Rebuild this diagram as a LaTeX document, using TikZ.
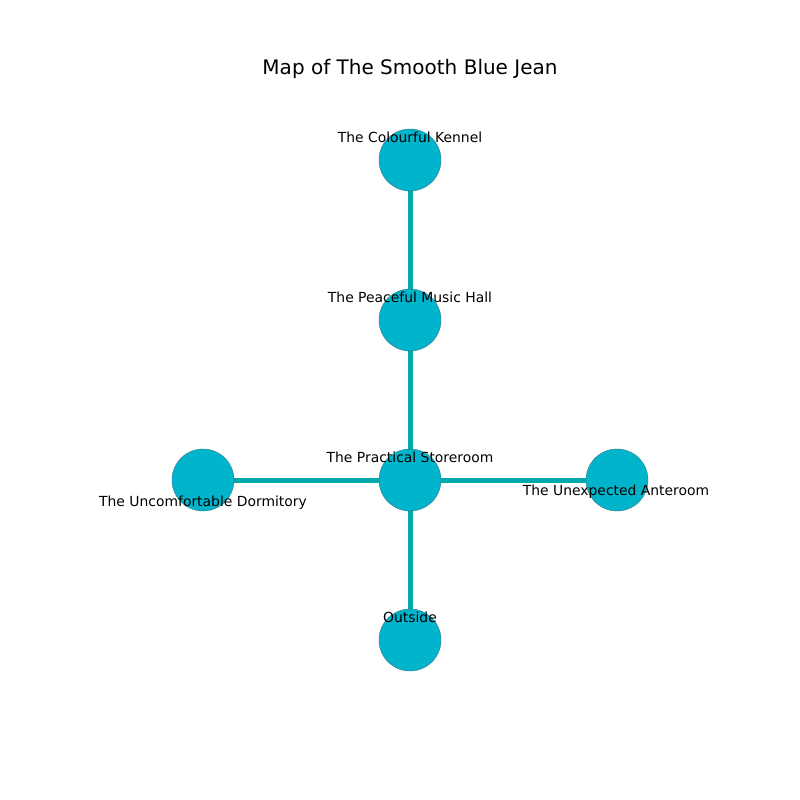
\documentclass[tikz,border=0pt]{standalone}
\usepackage{fontspec}
\setmainfont{DejaVu Sans}
\definecolor{nodefill}{RGB}{0,180,204}
\definecolor{edgecol}{RGB}{0,170,170}
\definecolor{rimcol}{RGB}{60,120,130}
\begin{document}
\begin{tikzpicture}[x=1pt,y=-1pt,
  room/.style={circle,fill=nodefill,draw=rimcol,line width=0.4pt,minimum size=62pt,inner sep=0pt},
  link/.style={draw=edgecol,line width=5pt},
  lbl/.style={font=\fontsize{13.9}{16}\selectfont,inner sep=0pt,anchor=center}]
\useasboundingbox[fill=white] (0,0) rectangle (800,800);
\node[font=\fontsize{20}{24}\selectfont] (title) at (410,69) {Map of The Smooth Blue Jean};
\coordinate (k) at (410,160);
\coordinate (m) at (410,320);
\coordinate (s) at (410,480);
\coordinate (d) at (203,480);
\coordinate (a) at (617,480);
\coordinate (o) at (410,640);
\draw[link] (k) -- (m);
\draw[link] (m) -- (s);
\draw[link] (s) -- (d);
\draw[link] (s) -- (a);
\draw[link] (s) -- (o);
\node[room] (nk) at (k) {};
\node[room] (nm) at (m) {};
\node[room] (ns) at (s) {};
\node[room] (nd) at (d) {};
\node[room] (na) at (a) {};
\node[room] (no) at (o) {};
\node[lbl] (lk) at (410,137.5) {The Colourful Kennel};
\node[lbl] (lm) at (410,297.5) {The Peaceful Music Hall};
\node[lbl] (ls) at (410,457.5) {The Practical Storeroom};
\node[lbl] (ld) at (203,502.5) {The Uncomfortable Dormitory};
\node[lbl] (la) at (616,491.5) {The Unexpected Anteroom};
\node[lbl] (lo) at (410,617.5) {Outside};
\end{tikzpicture}
\end{document}
